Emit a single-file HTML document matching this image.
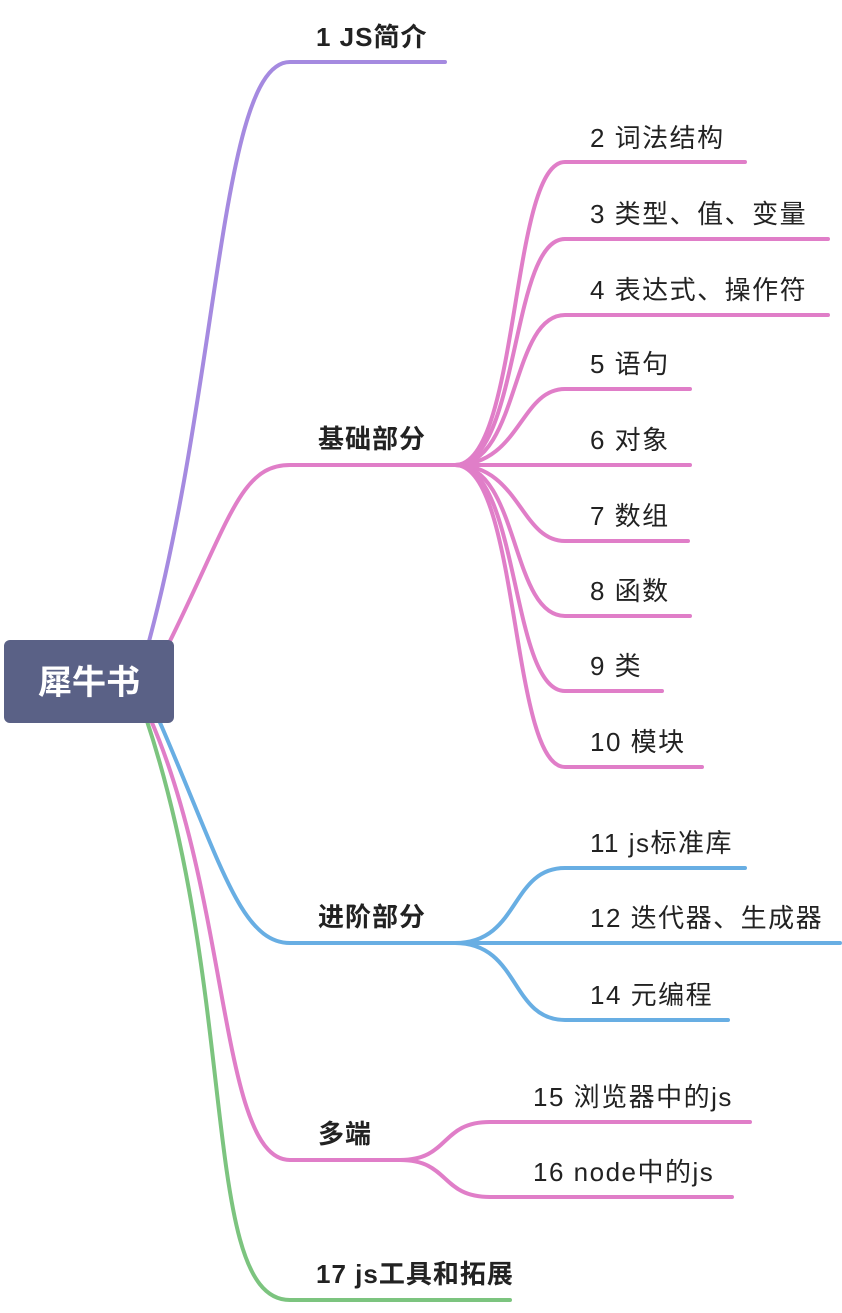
<!DOCTYPE html>
<html><head><meta charset="utf-8"><style>
body{margin:0;background:#fff}
svg text{font-family:"Liberation Sans","Noto Sans CJK SC",sans-serif;fill:#222}
</style></head><body>
<svg width="842" height="1308" viewBox="0 0 842 1308" xmlns="http://www.w3.org/2000/svg">
<g fill="none" stroke-width="4" stroke-linecap="round">
<path d="M148 645 C220 380 220 62 290 62 L445 62" stroke="#a58ae0"/>
<path d="M168 645 C230 520 240 465 290 465 L455 465" stroke="#e07ec8"/>
<path d="M158 718 C220 860 240 943 290 943 L455 943" stroke="#68aee3"/>
<path d="M150 718 C230 900 220 1160 290 1160 L400 1160" stroke="#e07ec8"/>
<path d="M146 718 C240 1000 200 1300 290 1300 L510 1300" stroke="#7cc47f"/>
<g stroke="#e07ec8">
<path d="M455 465 C520 465 510 162 565 162 L745 162"/>
<path d="M455 465 C520 465 510 239 565 239 L828 239"/>
<path d="M455 465 C520 465 510 315 565 315 L828 315"/>
<path d="M455 465 C520 465 520 389 565 389 L690 389"/>
<path d="M455 465 L690 465"/>
<path d="M455 465 C520 465 520 541 565 541 L688 541"/>
<path d="M455 465 C520 465 510 616 565 616 L690 616"/>
<path d="M455 465 C520 465 510 691 565 691 L662 691"/>
<path d="M455 465 C520 465 510 767 565 767 L702 767"/>
<path d="M400 1160 C450 1160 440 1122 490 1122 L750 1122"/>
<path d="M400 1160 C450 1160 440 1197 490 1197 L732 1197"/>
</g>
<g stroke="#68aee3">
<path d="M455 943 C520 943 510 868 565 868 L745 868"/>
<path d="M455 943 L840 943"/>
<path d="M455 943 C520 943 510 1020 565 1020 L728 1020"/>
</g>
</g>
<rect x="4" y="640" width="170" height="83" rx="6" fill="#5a6186"/>
<text x="89" y="694" font-size="34" font-weight="bold" text-anchor="middle" style="fill:#fff">犀牛书</text>
<g font-size="26" font-weight="bold" letter-spacing="1">
<text x="316" y="46">1 JS简介</text>
<text x="318" y="448">基础部分</text>
<text x="318" y="926">进阶部分</text>
<text x="318" y="1143">多端</text>
<text x="316" y="1283">17 js工具和拓展</text>
</g>
<g font-size="26" letter-spacing="1.5">
<text x="590" y="147">2 词法结构</text>
<text x="590" y="223">3 类型、值、变量</text>
<text x="590" y="299">4 表达式、操作符</text>
<text x="590" y="373">5 语句</text>
<text x="590" y="449">6 对象</text>
<text x="590" y="525">7 数组</text>
<text x="590" y="600">8 函数</text>
<text x="590" y="675">9 类</text>
<text x="590" y="751">10 模块</text>
<text x="590" y="852">11 js标准库</text>
<text x="590" y="927">12 迭代器、生成器</text>
<text x="590" y="1004">14 元编程</text>
<text x="533" y="1106">15 浏览器中的js</text>
<text x="533" y="1181">16 node中的js</text>
</g>
</svg>
</body></html>
